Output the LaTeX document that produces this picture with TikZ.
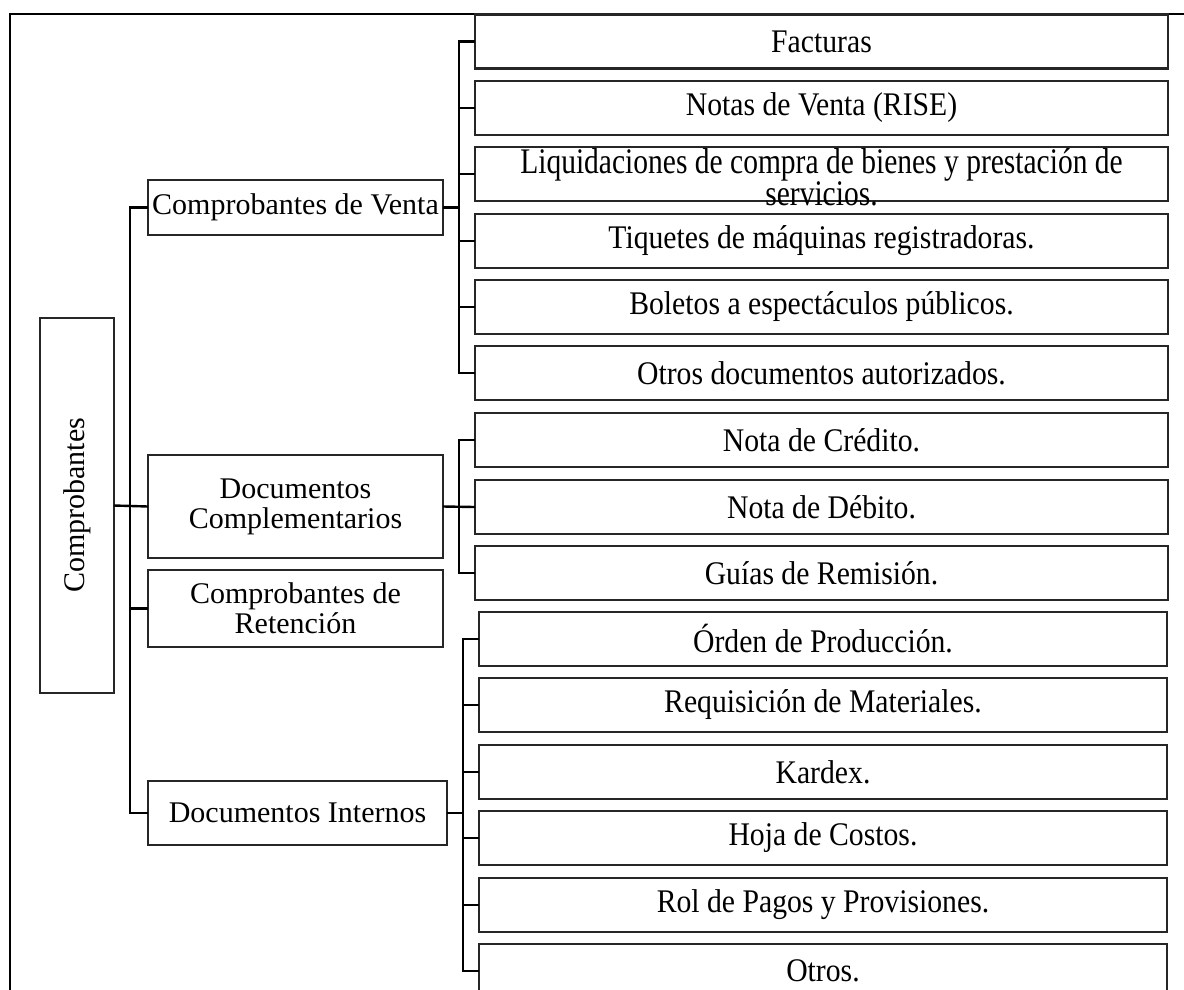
\documentclass[tikz,border=0pt]{standalone}
\usepackage{fontspec}
\setmainfont{Liberation Serif}
\newcommand{\rtxt}[1]{\scalebox{0.9}[1]{\fontsize{33}{33}\selectfont #1}}
\begin{document}
\begin{tikzpicture}[x=1pt,y=-1pt,
  box/.style={draw=black!85, line width=2.2pt, inner sep=0pt, outer sep=0pt, align=center, font=\fontsize{30}{30}\selectfont},
  lbox/.style={box, minimum width=295pt},
  rbox/.style={box, minimum width=693pt, minimum height=54pt},
  ibox/.style={box, minimum width=688pt, minimum height=54pt},
  conn/.style={line width=2.4pt, black},
  frameline/.style={line width=2pt, black}]
\useasboundingbox (0,0) rectangle (1184,989);
\clip (0,0) rectangle (1184,989);
\fill[white] (0,0) rectangle (1184,989);

% frame
\coordinate (fbl) at (10,992);
\coordinate (ftl) at (10,14);
\coordinate (ftr) at (1184,14);
\draw[frameline] (fbl) -- (ftl) -- (ftr);

% root
\node[box, minimum width=74pt, minimum height=375pt] (root) at (77,505.5) {};
\node[rotate=90, font=\fontsize{30}{30}\selectfont] (roottext) at (root.center) {Comprobantes};

% second level
\node[lbox, minimum height=55pt] (cdv) at (295.5,207.5) {Comprobantes de Venta};
\node[lbox, minimum height=103pt] (dc) at (295.5,506.5) {Documentos\\Complementarios};
\node[lbox, minimum height=77pt] (cr) at (295.5,608.5) {Comprobantes de\\Retención};
\node[box, minimum width=299pt, minimum height=64pt] (di) at (297.5,813) {Documentos Internos};

% third level
\node[rbox] (r1) at (821.5,41.5) {\rtxt{Facturas}};
\node[rbox] (r2) at (821.5,108) {\rtxt{Notas de Venta (RISE)}};
\node[rbox] (r3) at (821.5,174) {};
\node[inner sep=0pt] (r3t) at ([yshift=-7pt]r3.center) {\scalebox{0.82}[1]{\fontsize{36}{27}\selectfont\begin{tabular}{@{}c@{}}Liquidaciones de compra de bienes y prestación de\\servicios.\end{tabular}}};
\node[rbox] (r4) at (821.5,241) {\rtxt{Tiquetes de máquinas registradoras.}};
\node[rbox] (r5) at (821.5,307) {\rtxt{Boletos a espectáculos públicos.}};
\node[rbox] (r6) at (821.5,373) {\rtxt{Otros documentos autorizados.}};
\node[rbox] (r7) at (821.5,440) {\rtxt{Nota de Crédito.}};
\node[rbox] (r8) at (821.5,507) {\rtxt{Nota de Débito.}};
\node[rbox] (r9) at (821.5,573) {\rtxt{Guías de Remisión.}};
\node[ibox] (r10) at (823,639) {\rtxt{Órden de Producción.}};
\node[ibox] (r11) at (823,705) {\rtxt{Requisición de Materiales.}};
\node[ibox] (r12) at (823,772) {\rtxt{Kardex.}};
\node[ibox] (r13) at (823,838) {\rtxt{Hoja de Costos.}};
\node[ibox] (r14) at (823,905) {\rtxt{Rol de Pagos y Provisiones.}};
\node[ibox] (r15) at (823,971) {\rtxt{Otros.}};

% root connectors
\draw[conn] (root.east) -- (dc.west);
\draw[conn] (cdv.west) -- ++(-18,0) |- (di.west);
\draw[conn] (cr.west) -- ++(-18,0);

% Comprobantes de Venta bracket
\draw[conn] (cdv.east) -- ++(16,0);
\draw[conn] (r1.west) -- ++(-16,0) |- (r6.west);
\foreach \n in {r2,r3,r4,r5} \draw[conn] (\n.west) -- ++(-16,0);

% Documentos Complementarios bracket
\draw[conn] (dc.east) -- (r8.west);
\draw[conn] (r7.west) -- ++(-16,0) |- (r9.west);

% Documentos Internos bracket
\draw[conn] (di.east) -- ++(16,0);
\draw[conn] (r10.west) -- ++(-16,0) |- (r15.west);
\foreach \n in {r11,r12,r13,r14} \draw[conn] (\n.west) -- ++(-16,0);
\end{tikzpicture}
\end{document}
